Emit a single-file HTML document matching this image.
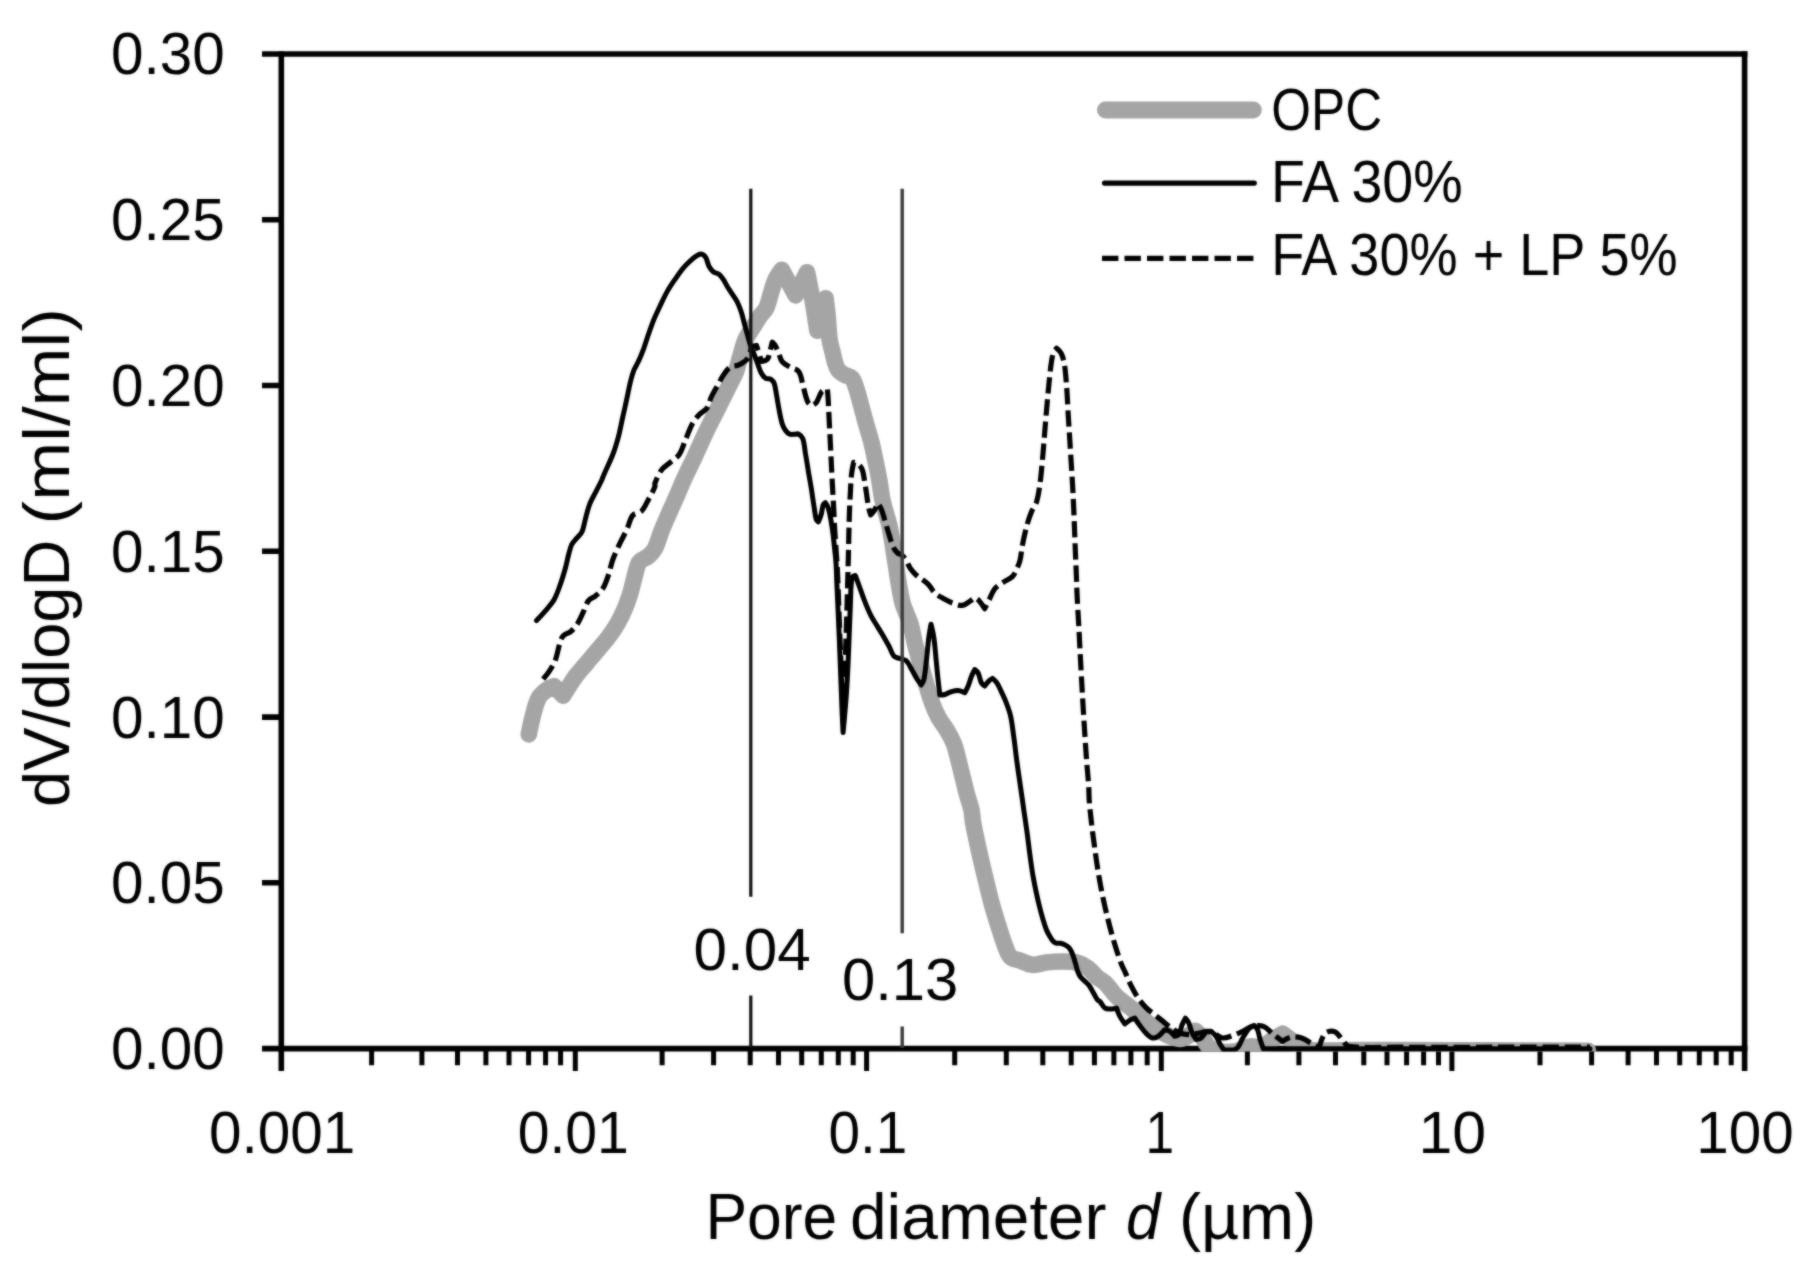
<!DOCTYPE html>
<html lang="en"><head><meta charset="utf-8"><title>Pore size distribution</title>
<style>html,body{margin:0;padding:0;background:#fff}body{width:1808px;height:1270px;overflow:hidden}svg{display:block}text{font-family:"Liberation Sans", Arial, sans-serif;fill:#000}</style>
</head><body>
<svg width="1808" height="1270" viewBox="0 0 1808 1270">
<defs><filter id="soft" x="0" y="0" width="100%" height="100%" color-interpolation-filters="sRGB"><feGaussianBlur stdDeviation="0.9" result="b"/><feComposite in="SourceGraphic" in2="b" operator="arithmetic" k1="0" k2="0.45" k3="0.55" k4="0"/></filter></defs>
<rect width="1808" height="1270" fill="#fff"/>
<g filter="url(#soft)">
<rect width="1808" height="1270" fill="#fff"/>
<g stroke="#000" stroke-width="5.6" fill="none" stroke-linecap="butt">
<path d="M262,54.0H1747.4"/>
<path d="M262,1048.6H1747.4"/>
<path d="M281.3,51.2V1071"/>
<path d="M1744.6,51.2V1071"/>
<path d="M262,219.8H281.3M262,385.5H281.3M262,551.3H281.3M262,717.1H281.3M262,882.8H281.3"/>
</g>
<g stroke="#000" stroke-width="5" fill="none">
<path d="M371.6,1048.6V1065.2M421.9,1048.6V1065.2M457.5,1048.6V1065.2M485.9,1048.6V1065.2M509.0,1048.6V1065.2M528.6,1048.6V1065.2M545.6,1048.6V1065.2M560.6,1048.6V1065.2M575.3,1048.6V1071M662.1,1048.6V1065.2M713.6,1048.6V1065.2M750.2,1048.6V1065.2M778.5,1048.6V1065.2M801.7,1048.6V1065.2M821.3,1048.6V1065.2M838.3,1048.6V1065.2M853.2,1048.6V1065.2M866.6,1048.6V1071M954.7,1048.6V1065.2M1006.3,1048.6V1065.2M1042.8,1048.6V1065.2M1071.2,1048.6V1065.2M1094.4,1048.6V1065.2M1113.9,1048.6V1065.2M1130.9,1048.6V1065.2M1147.2,1048.6V1065.2M1161.3,1048.6V1071M1247.4,1048.6V1065.2M1298.9,1048.6V1065.2M1335.5,1048.6V1065.2M1363.8,1048.6V1065.2M1387.0,1048.6V1065.2M1406.6,1048.6V1065.2M1423.6,1048.6V1065.2M1438.5,1048.6V1065.2M1451.9,1048.6V1071M1540.0,1048.6V1065.2M1591.6,1048.6V1065.2M1628.1,1048.6V1065.2M1656.5,1048.6V1065.2M1679.7,1048.6V1065.2M1699.3,1048.6V1065.2M1716.2,1048.6V1065.2M1731.2,1048.6V1065.2"/>
</g>
<clipPath id="plot"><rect x="278" y="51" width="1470" height="1000.4"/></clipPath>
<g clip-path="url(#plot)">
<path d="M528.8,734.4C528.8,734.4 531.4,721.0 533.2,714.5C534.7,708.9 535.9,702.9 538.7,697.9C540.7,694.3 544.3,691.6 547.6,689.1C549.5,687.7 554.2,686.2 554.2,686.2C554.2,686.2 563.1,695.7 563.1,695.7C563.1,695.7 568.2,687.5 570.8,683.5C572.2,681.3 573.6,679.0 575.2,676.9C578.7,672.4 582.6,668.0 586.3,663.6C589.9,659.2 593.7,654.8 597.3,650.4C601.0,646.0 605.0,641.7 608.4,637.1C611.6,632.9 614.7,628.4 617.3,623.8C620.2,618.9 622.8,613.6 625,608.3C627.1,603.3 628.9,598.0 630.5,592.8C632.2,587.0 633.3,580.9 635,575.1C636.3,570.7 636.8,565.7 639.4,561.9C641.4,559.1 645.6,558.5 648.2,556.3C650.8,554.1 653.3,551.6 654.9,548.6C657.8,543.1 659.2,536.7 661.5,530.9C663.6,525.7 665.9,520.5 668.1,515.4C671.0,508.8 674.1,502.1 677,495.5C679.2,490.4 681.3,485.1 683.6,480C687.1,472.3 691.1,464.4 694.7,456.7C698.4,448.7 702.0,440.4 705.8,432.4C708.9,425.8 712.4,419.1 715.7,412.5C718.3,407.4 720.9,402.1 723.5,397C725.7,392.6 727.9,388.1 730.1,383.7C731.9,380.1 734.2,376.5 735.6,372.7C737.5,367.7 738.5,362.3 740,357.2C741.8,351.3 743.1,345.1 745.6,339.5C747.6,334.9 750.9,330.7 753.6,326.4C755.8,322.8 758.0,319.1 760.4,315.6C762.2,313.1 764.9,311.1 766.2,308.3C768.4,303.5 769.4,298.0 771,293C772.4,288.6 773.5,283.9 775.4,279.7C777.0,276.1 781.8,269.7 781.8,269.7C781.8,269.7 795.6,295.4 795.6,295.4C795.6,295.4 807.0,272.2 807,272.2C807.0,272.2 810.9,290.8 812.5,300C814.3,310.1 817.3,330.7 817.3,330.7C817.3,330.7 820.1,319.5 821.5,314C822.8,308.8 825.6,298.3 825.6,298.3C825.6,298.3 827.2,311.5 827.8,318C828.5,325.1 828.6,332.5 829.6,339.6C830.2,343.8 831.5,347.9 832.5,352C833.5,356.0 834.2,360.1 835.5,364C836.2,366.2 837.0,368.6 838.5,370.4C840.2,372.4 842.7,373.7 845,375C847.1,376.2 850.2,376.1 851.8,378C854.2,380.7 855.0,384.6 856.2,388C857.9,393.1 859.2,398.4 860.6,403.6C862.4,410.2 864.2,416.9 866,423.5C867.8,430.1 870.0,436.8 871.7,443.5C873.3,450.0 874.6,456.8 876,463.4C877.2,469.2 878.4,475.2 879.4,481C880.6,487.6 881.2,494.5 882.7,501C884.7,509.9 887.9,518.7 889.8,527.6C892.0,538.2 893.4,549.3 895.1,560C896.3,567.3 897.2,574.8 898.5,582.1C899.8,589.4 900.8,597.1 902.9,604.2C904.9,611.0 908.5,617.4 910.6,624.2C912.6,630.6 913.4,637.6 915,644.1C916.7,650.7 918.8,657.4 920.6,664C922.4,670.6 924.2,677.4 926.1,683.9C927.8,689.8 929.5,695.9 931.6,701.6C933.5,706.8 935.7,712.2 938.3,717.1C940.8,721.7 944.4,725.9 947.1,730.4C949.6,734.6 952.0,739.0 953.8,743.6C955.7,748.6 956.8,754.0 958.2,759.1C959.7,764.9 961.1,771.0 962.6,776.8C964.1,782.6 965.4,788.7 967,794.5C968.4,799.6 970.4,804.8 971.5,810C972.4,813.9 972.3,818.1 973,822.1C974.6,830.9 976.6,839.9 978.5,848.7C980.6,858.2 982.9,867.9 985.2,877.4C987.3,886.2 989.4,895.3 991.8,904C993.8,911.4 996.2,918.8 998.5,926.1C1000.6,932.7 1002.6,939.6 1005.1,946C1006.6,949.8 1007.7,954.2 1010.6,957.1C1012.8,959.3 1016.5,959.4 1019.5,960.4C1023.8,961.9 1028.1,964.4 1032.7,964.8C1037.1,965.2 1041.6,963.1 1046,962.6C1051.1,962.0 1056.4,961.5 1061.5,961.5C1066.6,961.5 1072.0,961.4 1077,962.6C1081.0,963.6 1084.8,965.7 1088.1,968.1C1091.4,970.5 1093.8,974.3 1096.9,977C1099.7,979.4 1103.2,981.0 1105.8,983.6C1109.7,987.5 1112.6,992.7 1116.6,996.5C1121.7,1001.4 1127.9,1005.3 1133.2,1009.8C1138.8,1014.6 1143.9,1020.3 1149.8,1024.7C1154.9,1028.5 1160.6,1032.0 1166.4,1034.7C1170.7,1036.7 1175.3,1038.7 1180,1039C1182.8,1039.2 1185.5,1037.3 1188,1036C1190.7,1034.6 1195.5,1030.8 1195.5,1030.8C1195.5,1030.8 1200.1,1034.7 1202,1037C1204.3,1039.8 1205.5,1043.5 1208,1046C1210.2,1048.2 1212.9,1050.4 1216,1051C1222.1,1052.3 1228.8,1052.3 1235,1051.5C1240.2,1050.8 1244.9,1047.4 1250,1046.5C1253.9,1045.8 1258.2,1048.1 1262,1047C1265.9,1045.9 1268.6,1042.2 1272,1040C1275.4,1037.8 1282.7,1033.7 1282.7,1033.7C1282.7,1033.7 1288.3,1037.8 1291,1040C1293.7,1042.2 1295.9,1045.4 1299,1047C1302.3,1048.8 1306.3,1049.6 1310,1050C1316.6,1050.8 1323.4,1050.6 1330,1050.6C1337.3,1050.6 1344.7,1050.0 1352,1050C1384.3,1049.9 1417.7,1050.2 1450,1050.3C1473.1,1050.4 1496.9,1050.4 1520,1050.5C1542.4,1050.6 1588.0,1050.7 1588,1050.7" fill="none" stroke="#a5a5a5" stroke-width="16.6" stroke-linejoin="round" stroke-linecap="round"/>
<path d="M536.5,620.5C536.5,620.5 544.1,612.5 547.6,608.3C549.9,605.5 552.5,602.7 554.2,599.5C556.5,595.3 558.1,590.7 559.7,586.2C561.8,580.4 563.6,574.4 565.3,568.5C566.7,563.4 567.6,558.1 569,553C569.8,550.0 570.5,546.9 571.9,544.2C573.0,542.1 574.8,540.4 576.3,538.6C578.1,536.4 580.7,534.6 581.9,532C583.7,528.2 584.1,523.8 585.2,519.8C586.6,514.7 587.7,509.3 589.6,504.3C591.3,499.8 594.0,495.5 596.2,491.1C598.0,487.4 600.1,483.7 601.8,480C602.6,478.2 603.2,476.2 604,474.4C606.8,467.8 610.2,461.2 612.8,454.5C615.0,448.8 616.8,442.7 618.4,436.8C620.1,430.3 621.3,423.5 622.8,416.9C624.3,410.3 625.8,403.6 627.2,397C628.3,391.9 629.2,386.6 630.5,381.5C631.4,377.8 632.4,374.0 633.8,370.4C635.0,367.4 637.0,364.6 638.3,361.6C640.3,357.3 642.1,352.8 643.8,348.3C645.4,344.0 646.7,339.4 648.2,335C650.0,329.9 651.8,324.6 653.8,319.6C655.8,314.8 658.2,309.9 660.4,305.2C662.5,300.8 664.6,296.2 667,291.9C669.3,287.7 672.1,283.6 674.8,279.7C677.6,275.6 680.4,271.4 683.6,267.6C685.9,264.8 688.7,262.2 691.4,259.8C693.4,258.0 695.6,256.2 698,255C699.3,254.3 701.0,253.8 702.4,254.3C703.9,254.8 705.0,256.2 705.8,257.6C707.3,260.3 707.6,263.7 709.1,266.5C710.2,268.5 711.7,270.6 713.5,272C715.0,273.2 717.5,273.0 719,274.2C720.9,275.6 722.2,277.8 723.5,279.7C725.1,282.2 726.4,285.0 727.9,287.5C729.3,289.7 730.9,291.9 732.3,294.1C733.9,296.7 735.8,299.2 737.2,301.9C738.8,305.0 740.1,308.5 741.2,311.8C742.5,315.8 743.4,320.0 744.5,324C745.6,328.0 746.7,332.2 747.8,336.2C748.8,339.8 749.8,343.6 751.1,347.2C752.0,349.8 753.4,352.4 754.4,355C755.5,357.9 756.6,360.9 757.7,363.8C758.8,366.7 759.6,369.9 761.1,372.7C762.2,374.7 763.6,376.9 765.5,378.2C767.0,379.2 769.4,378.3 771,379.3C772.5,380.3 773.7,382.0 774.3,383.7C775.5,387.2 775.8,391.1 776.5,394.8C777.4,399.9 778.2,405.2 779.2,410.3C780.1,414.7 780.8,419.2 782.1,423.5C782.8,425.9 784.0,428.2 785.4,430.2C786.5,431.8 788.0,433.5 789.8,434.2C791.5,434.9 793.6,434.2 795.4,434.2C796.4,434.2 797.5,433.5 798.4,434C800.1,435.0 802.0,436.4 802.7,438.3C804.5,443.2 804.6,448.7 805.5,453.9C806.5,459.5 807.4,465.3 808.3,470.9C809.2,476.5 810.3,482.3 811.2,487.9C812.2,494.0 813.0,500.2 814,506.3C814.7,510.5 815.0,514.9 816.1,519C816.4,520.2 818.3,521.9 818.3,521.9C818.3,521.9 820.4,517.2 821.1,514.8C822.0,511.6 822.1,508.0 823.2,504.9C823.5,503.9 825.4,502.7 825.4,502.7C825.4,502.7 827.6,505.9 828.2,507.7C829.5,511.8 830.2,516.2 831,520.5C831.8,525.1 832.5,529.9 833.1,534.6C833.7,539.3 834.1,544.1 834.6,548.8C835.1,553.5 835.7,558.3 836,563C836.4,568.6 836.5,574.4 836.7,580C837.3,593.2 837.9,606.8 838.5,620C839.2,636.5 839.9,653.5 840.5,670C841.0,683.2 841.5,696.8 842,710C842.3,717.5 843.1,732.6 843.1,732.6C843.1,732.6 845.6,705.9 846.5,692.7C847.5,678.1 848.1,663.1 848.7,648.5C849.3,633.9 849.7,618.8 850.4,604.2C850.8,595.4 850.5,586.3 852,577.7C852.2,576.4 855.3,575.5 855.3,575.5C855.3,575.5 857.5,581.4 858.6,584.3C860.5,589.4 862.2,594.7 864.2,599.8C866.2,605.0 868.3,610.3 870.8,615.3C872.7,619.1 875.2,622.7 877.4,626.4C879.6,630.0 882.0,633.7 884.1,637.4C886.0,640.7 887.8,644.1 889.6,647.4C891.1,650.3 891.8,653.8 894,656.2C895.3,657.7 897.7,657.8 899.6,658.5C901.8,659.3 904.5,659.2 906.2,660.7C908.7,663.0 910.0,666.6 911.7,669.5C913.6,672.8 915.3,676.3 917.3,679.5C918.5,681.4 921.2,685.0 921.2,685C921.2,685.0 923.5,681.5 923.9,679.5C925.3,673.0 925.7,666.2 926.5,659.6C927.4,652.3 927.9,644.7 928.8,637.4C929.4,633.0 931.0,624.2 931,624.2C931.0,624.2 933.2,633.0 933.8,637.4C934.9,644.7 935.4,652.3 936.1,659.6C936.8,666.9 937.5,674.4 938.3,681.7C938.8,686.1 939.8,695.0 939.8,695C939.8,695.0 943.3,695.0 944.9,694.5C947.2,693.8 949.2,692.3 951.5,691.6C953.6,691.0 956.0,690.3 958.2,690.5C960.5,690.7 964.8,692.7 964.8,692.7C964.8,692.7 967.2,688.4 968.1,686.1C969.4,682.9 970.2,679.4 971.5,676.2C972.4,673.9 974.8,669.5 974.8,669.5C974.8,669.5 977.4,671.4 978.1,672.8C979.6,675.9 979.9,679.7 981.4,682.8C982.1,684.2 984.7,686.1 984.7,686.1C984.7,686.1 987.5,682.2 989.2,680.6C990.1,679.7 992.5,678.4 992.5,678.4C992.5,678.4 995.8,681.1 996.9,682.8C998.7,685.5 999.9,688.7 1001.3,691.6C1002.8,694.9 1004.5,698.2 1005.8,701.6C1007.5,706.2 1009.4,710.8 1010.5,715.6C1012.0,722.1 1012.7,729.1 1013.6,735.7C1014.8,744.0 1015.7,752.6 1016.8,760.9C1017.9,769.2 1019.2,777.8 1020.4,786.1C1021.6,794.4 1022.8,803.0 1024,811.3C1025.2,819.6 1026.5,828.2 1027.6,836.5C1028.6,844.2 1029.5,852.3 1030.6,860C1031.4,865.5 1032.1,871.1 1033.1,876.5C1034.1,882.0 1035.2,887.6 1036.4,893.1C1037.4,897.8 1038.5,902.7 1039.7,907.4C1040.7,911.4 1041.8,915.5 1043,919.5C1044.0,922.8 1045.0,926.3 1046.3,929.5C1047.2,931.8 1048.4,934.0 1049.6,936.1C1050.6,937.8 1051.6,939.6 1052.9,941C1053.8,942.0 1054.9,942.8 1056.2,943.2C1057.6,943.6 1059.2,942.9 1060.6,943.2C1062.1,943.5 1063.6,944.1 1065,944.9C1066.6,945.8 1068.4,946.8 1069.5,948.2C1071.0,950.1 1071.9,952.5 1072.8,954.8C1073.9,957.6 1074.6,960.7 1075.5,963.6C1076.3,966.2 1076.8,968.9 1077.7,971.4C1078.4,973.3 1079.3,975.3 1080.5,976.9C1081.7,978.6 1083.4,979.8 1084.9,981.3C1086.4,982.8 1088.1,984.0 1089.3,985.7C1091.0,988.1 1092.2,990.9 1093.7,993.4C1095.0,995.6 1096.0,998.0 1097.6,1000C1098.2,1000.7 1099.4,1000.8 1100,1001.5C1101.8,1003.5 1102.7,1006.6 1105,1008.1C1106.8,1009.3 1109.4,1008.9 1111.6,1008.9C1113.3,1008.9 1116.6,1008.1 1116.6,1008.1C1116.6,1008.1 1118.5,1013.8 1119.9,1016.4C1121.3,1019.0 1124.9,1023.9 1124.9,1023.9C1124.9,1023.9 1128.7,1020.9 1130.7,1019.7C1132.0,1019.0 1134.8,1018.1 1134.8,1018.1C1134.8,1018.1 1138.0,1023.1 1139.8,1025.5C1141.9,1028.3 1144.0,1031.3 1146.5,1033.8C1148.2,1035.5 1150.0,1037.5 1152.3,1038C1154.2,1038.4 1156.4,1037.4 1158.1,1036.3C1160.7,1034.6 1164.7,1029.7 1164.7,1029.7C1164.7,1029.7 1168.3,1030.3 1169.7,1031.3C1171.6,1032.6 1174.7,1036.3 1174.7,1036.3C1174.7,1036.3 1178.0,1035.9 1178.8,1034.7C1180.7,1031.8 1180.8,1027.9 1182.1,1024.7C1183.0,1022.4 1185.4,1018.1 1185.4,1018.1C1185.4,1018.1 1188.0,1021.2 1188.8,1023C1190.2,1026.2 1190.7,1029.8 1192.1,1033C1193.1,1035.3 1196.2,1039.6 1196.2,1039.6C1196.2,1039.6 1199.8,1039.0 1201.2,1038C1203.2,1036.5 1204.1,1033.6 1206.2,1032.2C1207.6,1031.3 1211.2,1031.3 1211.2,1031.3C1211.2,1031.3 1214.8,1034.4 1216.1,1036.3C1217.8,1038.8 1218.8,1041.9 1220.3,1044.6C1221.3,1046.3 1223.6,1049.6 1223.6,1049.6C1223.6,1049.6 1232.6,1050.9 1236.1,1048.8C1239.7,1046.6 1240.5,1041.5 1242.7,1038C1244.8,1034.7 1246.6,1030.9 1249.3,1028C1250.6,1026.6 1254.3,1025.5 1254.3,1025.5C1254.3,1025.5 1256.9,1028.1 1257.6,1029.7C1258.9,1032.8 1259.1,1036.4 1260.1,1039.6C1261.0,1042.7 1263.4,1048.8 1263.4,1048.8C1263.4,1048.8 1287.9,1048.8 1300,1048.8C1333.0,1048.8 1367.0,1048.8 1400,1048.8C1433.0,1048.8 1467.0,1048.8 1500,1048.8C1529.7,1048.8 1590.0,1048.8 1590,1048.8" fill="none" stroke="#000" stroke-width="5" stroke-linejoin="round" stroke-linecap="round"/>
<path d="M543.1,679.1C543.1,679.1 547.8,673.4 549.8,670.3C551.9,667.1 554.0,663.8 555.3,660.3C557.3,655.0 558.0,649.1 559.7,643.7C560.5,641.1 561.2,638.1 563.1,636C565.1,633.8 568.6,633.4 570.8,631.5C573.3,629.3 575.6,626.6 577.4,623.8C579.6,620.4 581.2,616.4 583,612.7C584.9,608.7 585.9,604.1 588.5,600.6C590.0,598.5 593.1,597.9 595.1,596.2C597.9,593.8 601.0,591.5 602.9,588.4C605.4,584.4 606.9,579.6 608.4,575.1C610.1,570.1 611.0,564.6 612.8,559.6C614.7,554.4 617.2,549.2 619.5,544.2C621.9,539.0 624.8,533.9 627.2,528.7C629.2,524.4 629.7,519.1 632.7,515.4C634.8,512.9 639.3,513.3 641.6,511C644.6,508.0 646.2,503.6 648.2,499.9C650.6,495.6 653.1,491.2 654.9,486.6C655.3,485.6 654.5,484.3 654.9,483.3C656.7,478.7 658.6,473.9 661.5,470C663.8,466.9 667.5,464.9 670.4,462.3C673.3,459.7 677.1,457.7 679.2,454.5C682.3,449.9 683.6,444.1 685.8,439C688.0,433.9 689.8,428.4 692.5,423.5C694.2,420.3 696.6,417.4 699.1,414.7C701.4,412.2 705.0,410.9 706.9,408.1C709.1,404.9 709.6,400.6 711.3,397C713.3,392.9 715.7,388.8 717.9,384.8C719.7,381.5 721.4,378.0 723.5,374.9C725.4,372.1 727.3,368.9 730.1,367.1C732.6,365.5 736.2,366.2 738.9,364.9C742.2,363.3 745.7,361.3 747.8,358.3C750.1,354.9 751.5,346.5 751.5,346.5C751.5,346.5 756.5,345.5 756.5,345.5C756.5,345.5 761.5,361.5 761.5,361.5C761.5,361.5 766.2,360.7 767.5,359C769.2,356.9 769.2,353.7 770,351C770.8,348.1 772.3,342.2 772.3,342.2C772.3,342.2 774.7,344.6 775.5,346C776.8,348.3 777.7,351.0 778.8,353.5C779.9,356.2 780.3,359.4 782.1,361.6C784.1,364.0 787.1,365.5 789.8,367.1C792.6,368.8 796.8,368.8 798.7,371.5C801.6,375.6 801.7,381.1 803.1,385.9C804.6,391.0 805.3,396.5 807.5,401.4C808.3,403.3 811.9,405.8 811.9,405.8C811.9,405.8 815.3,404.0 816.4,402.5C818.7,399.2 819.3,394.6 821.9,391.5C823.2,390.0 827.4,389.2 827.4,389.2C827.4,389.2 828.0,396.4 828.2,400C828.7,409.3 829.1,419.0 829.6,428.3C830.1,437.7 830.5,447.3 831,456.7C831.5,466.0 831.9,475.7 832.4,485C832.8,492.0 833.2,499.3 833.6,506.3C834.0,513.3 834.2,520.6 834.6,527.6C835.0,534.6 835.5,541.8 836,548.8C836.5,555.8 837.1,563.0 837.4,570C838.4,593.1 839.1,616.9 840,640C841.1,667.1 843.5,722.0 843.5,722C843.5,722.0 845.2,667.1 846,640C846.7,616.9 847.4,593.1 848,570C848.3,560.7 848.5,551.0 848.7,541.7C848.9,532.4 849.1,522.7 849.4,513.4C849.6,506.4 850.0,499.1 850.4,492.1C850.7,486.0 850.9,479.7 851.6,473.7C852.0,469.9 853.7,462.4 853.7,462.4C853.7,462.4 856.8,462.9 858,463.8C859.8,465.3 861.3,467.3 862.2,469.4C863.5,472.5 863.7,476.1 864.3,479.4C865.1,484.0 865.8,488.8 866.5,493.5C867.2,498.2 867.7,503.1 868.6,507.7C869.1,510.1 870.7,514.8 870.7,514.8C870.7,514.8 873.2,512.0 874.2,510.5C875.6,508.3 877.8,503.5 877.8,503.5C877.8,503.5 880.5,507.1 881.3,509.1C882.8,512.7 883.7,516.7 884.9,520.5C886.3,525.1 887.6,530.0 889.1,534.6C890.4,538.8 891.5,543.4 893.4,547.4C894.4,549.5 895.9,551.4 897.6,553C898.8,554.1 900.7,554.2 901.9,555.2C903.5,556.6 905.0,558.3 906.1,560.1C907.8,562.8 908.6,566.0 910.4,568.6C912.0,570.9 914.0,573.1 916.1,575C919.9,578.3 924.7,580.8 928.3,584.3C930.9,586.8 932.3,590.7 935,593.2C937.5,595.5 940.8,597.0 943.8,598.7C946.7,600.3 949.6,602.0 952.7,603.1C955.9,604.2 959.3,605.8 962.6,605.4C965.5,605.0 967.9,602.5 970.4,600.9C971.9,599.9 974.8,597.6 974.8,597.6C974.8,597.6 978.0,599.5 979.2,600.9C981.3,603.3 984.7,608.7 984.7,608.7C984.7,608.7 987.7,602.7 989.2,599.8C991.0,596.2 992.1,592.0 994.7,588.8C997.0,586.0 1000.5,584.2 1003.5,582.1C1006.3,580.1 1010.0,579.0 1012.4,576.6C1014.5,574.5 1015.6,571.5 1016.8,568.8C1018.1,566.0 1019.4,563.0 1020.1,560C1021.2,555.4 1021.4,550.4 1022.3,545.7C1023.6,539.1 1025.1,532.3 1026.8,525.8C1028.0,521.3 1029.5,516.8 1031.2,512.5C1032.7,508.7 1035.5,505.3 1036.7,501.4C1038.4,495.7 1039.2,489.6 1040,483.7C1041.0,476.4 1041.6,468.9 1042.3,461.6C1043.1,452.8 1043.8,443.8 1044.5,435C1045.2,426.3 1045.9,417.2 1046.7,408.5C1047.4,400.5 1048.1,392.2 1048.9,384.2C1049.6,377.6 1050.2,370.8 1051.1,364.2C1051.6,360.5 1052.1,356.7 1053.3,353.2C1053.9,351.4 1056.6,348.3 1056.6,348.3C1056.6,348.3 1060.1,351.2 1061.1,353.2C1062.8,356.6 1063.8,360.5 1064.4,364.2C1065.6,371.5 1066.0,379.1 1066.6,386.4C1067.3,395.1 1067.6,404.2 1068.1,412.9C1068.7,422.4 1069.3,432.2 1069.9,441.7C1070.5,451.2 1071.1,460.9 1071.7,470.4C1072.2,479.2 1072.8,488.2 1073.2,497C1073.6,505.7 1074.0,514.8 1074.3,523.5C1074.7,533.0 1075.0,542.8 1075.4,552.3C1075.7,561.0 1076.2,570.1 1076.5,578.8C1076.7,583.6 1076.8,588.5 1077,593.2C1077.5,604.2 1078.2,615.4 1078.8,626.4C1079.4,637.4 1079.9,648.6 1080.5,659.6C1081.1,670.5 1081.7,681.8 1082.3,692.7C1082.9,703.7 1083.6,714.9 1084.3,725.9C1085.0,736.9 1085.7,748.1 1086.5,759.1C1087.1,767.9 1088.1,776.9 1088.7,785.7C1089.0,790.4 1088.9,795.3 1089.2,800C1089.7,807.3 1090.6,814.8 1091.4,822.1C1092.2,829.4 1093.2,836.9 1094.2,844.2C1095.4,853.0 1096.6,862.0 1098,870.8C1099.3,878.8 1100.8,887.1 1102.4,895.1C1104.1,903.2 1106.0,911.5 1108,919.5C1110.0,927.6 1112.2,935.8 1114.6,943.8C1116.6,950.4 1118.8,957.2 1121.2,963.7C1122.2,966.4 1123.7,969.0 1124.9,971.6C1126.9,976.0 1128.6,980.6 1130.7,984.9C1133.0,989.4 1135.4,994.0 1138.2,998.2C1140.6,1001.7 1143.5,1005.1 1146.5,1008.1C1149.0,1010.6 1152.1,1012.6 1154.8,1014.8C1157.5,1017.0 1160.3,1019.2 1163,1021.4C1165.7,1023.6 1168.4,1026.0 1171.3,1028C1173.9,1029.8 1176.6,1031.9 1179.6,1033C1182.7,1034.2 1186.3,1034.7 1189.6,1034.7C1192.9,1034.7 1196.3,1033.6 1199.6,1033C1202.3,1032.5 1205.1,1031.0 1207.8,1031.3C1210.7,1031.6 1213.4,1033.5 1216.1,1034.7C1218.4,1035.7 1220.3,1037.9 1222.8,1038C1226.2,1038.2 1229.5,1036.6 1232.7,1035.5C1236.1,1034.4 1239.4,1032.8 1242.7,1031.3C1246.0,1029.8 1249.1,1027.2 1252.6,1026.4C1256.1,1025.6 1260.1,1025.2 1263.4,1026.4C1267.1,1027.8 1269.5,1031.4 1272.6,1033.8C1275.8,1036.3 1282.5,1041.3 1282.5,1041.3C1282.5,1041.3 1287.8,1037.7 1290.8,1037.2C1294.3,1036.6 1298.2,1037.0 1301.6,1038C1304.9,1039.0 1307.7,1041.3 1310.7,1043C1313.5,1044.6 1319.0,1047.9 1319,1047.9C1319.0,1047.9 1321.5,1038.6 1324,1034.7C1325.2,1032.8 1327.6,1031.8 1329.8,1031.3C1331.7,1030.9 1334.0,1031.1 1335.6,1032.2C1338.3,1034.0 1340.0,1037.2 1342.2,1039.6C1344.3,1041.9 1345.8,1045.9 1348.9,1046.3C1365.6,1048.5 1383.1,1047.1 1400,1047.2C1433.0,1047.4 1467.0,1047.2 1500,1047.2C1529.7,1047.2 1590.0,1047.2 1590,1047.2" fill="none" stroke="#000" stroke-width="5.2" stroke-linejoin="round" stroke-linecap="butt" stroke-dasharray="16.4 5.8"/>
</g>
<g stroke="#111" stroke-width="3.2" fill="none">
<path d="M750.8,188.8V896.7M750.8,995.4V1048"/>
</g><g stroke="#3a3a3a" stroke-width="3.4" fill="none">
<path d="M902.2,188.8V933.3M902.2,1026.4V1048"/>
</g>
<path d="M1105.5,110.1H1253.3" stroke="#a5a5a5" stroke-width="17" stroke-linecap="round" fill="none"/>
<path d="M1104.5,183.1H1254.3" stroke="#000" stroke-width="5.2" stroke-linecap="round" fill="none"/>
<path d="M1102,258.4H1256" stroke="#000" stroke-width="5.4" stroke-dasharray="16.4 6.1" fill="none"/>
<g font-size="60">
<text x="1271.3" y="129.8" textLength="110.8" lengthAdjust="spacingAndGlyphs">OPC</text>
<text x="1271.1" y="202.4" textLength="191.6" lengthAdjust="spacingAndGlyphs">FA 30%</text>
<text x="1271.2" y="275.4" textLength="406.5" lengthAdjust="spacingAndGlyphs">FA 30% + LP 5%</text>
<text x="111.1" y="74.4" textLength="113.7" lengthAdjust="spacingAndGlyphs">0.30</text>
<text x="111.1" y="240.2" textLength="113.7" lengthAdjust="spacingAndGlyphs">0.25</text>
<text x="111.1" y="405.9" textLength="113.7" lengthAdjust="spacingAndGlyphs">0.20</text>
<text x="111.1" y="571.7" textLength="113.7" lengthAdjust="spacingAndGlyphs">0.15</text>
<text x="111.1" y="737.5" textLength="113.7" lengthAdjust="spacingAndGlyphs">0.10</text>
<text x="111.1" y="903.2" textLength="113.7" lengthAdjust="spacingAndGlyphs">0.05</text>
<text x="111.1" y="1069.0" textLength="113.7" lengthAdjust="spacingAndGlyphs">0.00</text>
<text x="209.1" y="1152.6" textLength="146.3" lengthAdjust="spacingAndGlyphs">0.001</text>
<text x="517.7" y="1152.6" textLength="111.2" lengthAdjust="spacingAndGlyphs">0.01</text>
<text x="828.4" y="1152.6" textLength="78.9" lengthAdjust="spacingAndGlyphs">0.1</text>
<text x="1145.5" y="1152.6" textLength="28.6" lengthAdjust="spacingAndGlyphs">1</text>
<text x="1418.4" y="1152.6" textLength="67.7" lengthAdjust="spacingAndGlyphs">10</text>
<text x="1696.3" y="1152.6" textLength="97.5" lengthAdjust="spacingAndGlyphs">100</text>
<text x="693.5" y="970.0" textLength="117.1" lengthAdjust="spacingAndGlyphs">0.04</text>
<text x="842.0" y="1000.2" textLength="116.3" lengthAdjust="spacingAndGlyphs">0.13</text>
</g>
<text y="1239" font-size="64"><tspan x="705.4" textLength="131.9" lengthAdjust="spacingAndGlyphs">Pore</tspan> <tspan x="849.9" textLength="256.6" lengthAdjust="spacingAndGlyphs">diameter</tspan> <tspan x="1126.1" textLength="34.3" lengthAdjust="spacingAndGlyphs" font-style="italic">d</tspan> <tspan x="1178.9" textLength="137.4" lengthAdjust="spacingAndGlyphs">(µm)</tspan></text>
<text transform="translate(69.2,1000) rotate(-90)" y="0" font-size="64"><tspan x="193.0" textLength="267.4" lengthAdjust="spacingAndGlyphs">dV/dlogD</tspan> <tspan x="475.6" textLength="216.3" lengthAdjust="spacingAndGlyphs">(ml/ml)</tspan></text>
</g>
</svg>
</body></html>
